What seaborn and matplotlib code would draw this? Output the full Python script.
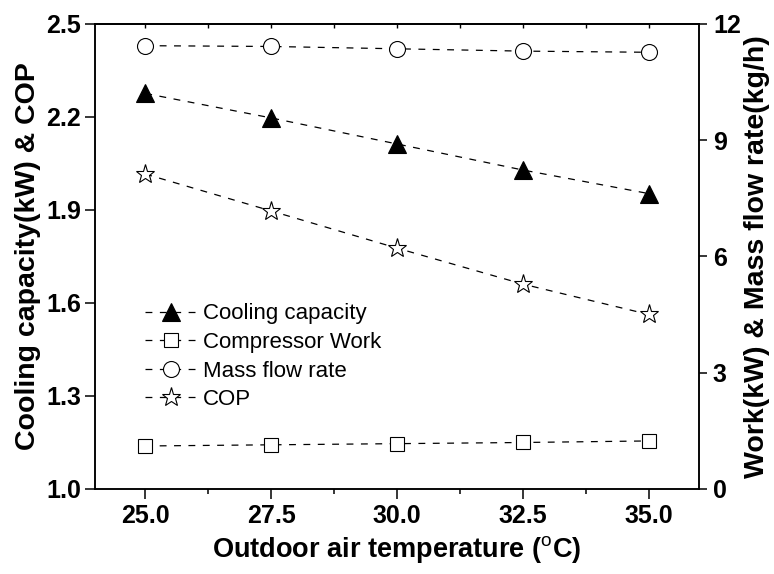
import matplotlib
matplotlib.use("Agg")
import matplotlib.pyplot as plt
import seaborn as sns
from matplotlib import font_manager as fm
from matplotlib.ticker import MultipleLocator, FormatStrFormatter

# ---- data ----
temps = [25.0, 27.5, 30.0, 32.5, 35.0]
cooling_capacity = [2.276, 2.197, 2.113, 2.029, 1.953]   # kW (left axis)
cop = [2.016, 1.897, 1.777, 1.661, 1.563]                # - (left axis)
compressor_work = [1.11, 1.14, 1.17, 1.20, 1.24]         # kW (right axis)
mass_flow = [11.44, 11.42, 11.36, 11.30, 11.27]          # kg/h (right axis)
left_ticks = [1.0, 1.3, 1.6, 1.9, 2.2, 2.5]
right_ticks = [0, 3, 6, 9, 12]

sns.set_style("ticks")
plt.rcParams['font.family'] = ['Liberation Sans', 'DejaVu Sans']
plt.rcParams['mathtext.fontset'] = 'custom'
plt.rcParams['mathtext.rm'] = 'Liberation Sans'
plt.rcParams['mathtext.bf'] = 'Liberation Sans:bold'
for k in ('text.color', 'axes.labelcolor', 'xtick.color', 'ytick.color', 'axes.edgecolor'):
    plt.rcParams[k] = 'black'

names = {f.name for f in fm.fontManager.ttflist}
narrow = 'Liberation Sans Narrow' in names
lab_family = ['Liberation Sans Narrow', 'Liberation Sans'] if narrow else ['Liberation Sans']
ylab_size = 24.8 if narrow else 20.5
xlab_size = 24.0 if narrow else 19.5

fig = plt.figure(figsize=(7.74, 5.74), dpi=100)
ax = fig.add_subplot(111)
fig.subplots_adjust(left=0.1227, right=0.9031, top=0.9582, bottom=0.1481)
ax2 = ax.twinx()

line_kw = dict(color='black', linewidth=0.9, linestyle=(0, (5.5, 6)),
               markeredgecolor='black', markeredgewidth=0.8, legend=False)

sns.lineplot(x=temps, y=cooling_capacity, ax=ax, marker='^', markersize=13,
             markerfacecolor='black', **line_kw)
sns.lineplot(x=temps, y=cop, ax=ax, marker='*', markersize=14,
             markerfacecolor='white', **line_kw)
sns.lineplot(x=temps, y=compressor_work, ax=ax2, marker='s', markersize=10,
             markerfacecolor='white', **line_kw)
sns.lineplot(x=temps, y=mass_flow, ax=ax2, marker='o', markersize=11.5,
             markerfacecolor='white', **line_kw)

ax.set_xlim(24, 36)
ax.set_ylim(1.0, 2.5)
ax2.set_ylim(0, 12)
ax.set_xticks(temps)
ax.xaxis.set_minor_locator(MultipleLocator(1.25))
ax.xaxis.set_major_formatter(FormatStrFormatter('%.1f'))
ax.set_yticks(left_ticks)
ax.yaxis.set_major_formatter(FormatStrFormatter('%.1f'))
ax2.set_yticks(right_ticks)

tick_font = dict(family='Liberation Sans', weight='bold', size=18)
for lbl in ax.get_xticklabels() + ax.get_yticklabels() + ax2.get_yticklabels():
    lbl.set_fontproperties(fm.FontProperties(**tick_font))
    lbl.set_color('black')

ax.tick_params(axis='x', which='major', direction='out', length=7, width=1.1, pad=4)
ax.tick_params(axis='x', which='minor', direction='out', length=3.6, width=1.1)
ax.tick_params(axis='y', which='major', direction='out', length=7, width=1.1, pad=3)
ax2.tick_params(axis='y', which='major', direction='out', length=6, width=1.1, pad=4)

sec = ax.secondary_xaxis('top')
sec.set_xticks(temps)
sec.xaxis.set_minor_locator(MultipleLocator(1.25))
sec.tick_params(axis='x', which='both', direction='in', length=3, width=1.0, labeltop=False)

for a in (ax, ax2):
    for s in a.spines.values():
        s.set_linewidth(1.1)
        s.set_color('black')
        s.set_visible(True)
sec.spines['top'].set_linewidth(1.1)

ax.set_xlabel(r'Outdoor air temperature ($^{\rm o}$C)', family=lab_family,
              weight='bold', size=xlab_size, labelpad=4, color='black')
ax.set_ylabel('Cooling capacity(kW) & COP', family=lab_family,
              weight='bold', size=ylab_size, labelpad=4, color='black')
ax2.set_ylabel('Work(kW) & Mass flow rate(kg/h)', family=lab_family,
               weight='bold', size=ylab_size, labelpad=2, color='black')

h_ax = ax.get_lines()
h_ax2 = ax2.get_lines()
handles = [h_ax[0], h_ax2[0], h_ax2[1], h_ax[1]]
labels = ['Cooling capacity', 'Compressor Work', 'Mass flow rate', 'COP']
leg = ax2.legend(handles, labels, loc='upper left', bbox_to_anchor=(0.083, 0.399),
                 frameon=False, borderpad=0, borderaxespad=0, handlelength=2.3,
                 handletextpad=0.3, labelspacing=0.34,
                 prop=fm.FontProperties(family='Liberation Sans', size=16))
for t in leg.get_texts():
    t.set_color('black')

fig.savefig('out.png', dpi=100)
